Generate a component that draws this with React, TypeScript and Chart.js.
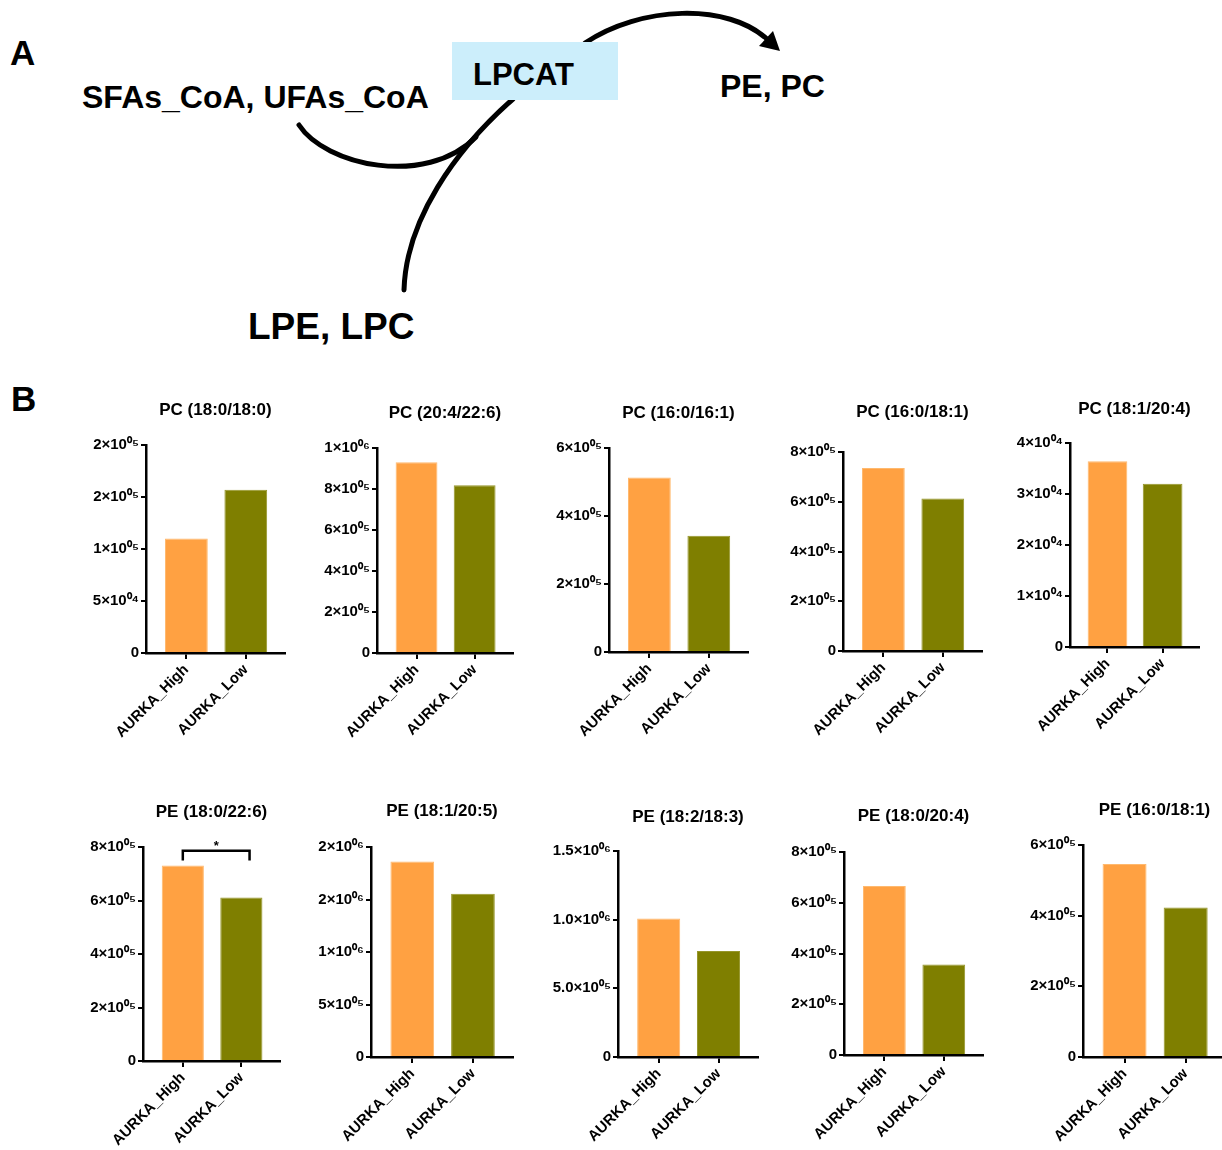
import React, { useEffect, useRef } from 'react';
import { Chart, registerables } from 'chart.js';

Chart.register(...registerables);

// ---------------- DATA ----------------
const categories = ['AURKA_High', 'AURKA_Low'];

const panelTitles = [
  'PC (18:0/18:0)',
  'PC (20:4/22:6)',
  'PC (16:0/16:1)',
  'PC (16:0/18:1)',
  'PC (18:1/20:4)',
  'PE (18:0/22:6)',
  'PE (18:1/20:5)',
  'PE (18:2/18:3)',
  'PE (18:0/20:4)',
  'PE (16:0/18:1)',
];

const highValues = [110000, 930000, 513000, 736000, 36400, 731000, 1863000, 1009000, 666000, 546000];
const lowValues = [157000, 818000, 342000, 613000, 32000, 611000, 1555000, 771000, 357000, 423000];

const yMaxValues = [200000, 1000000, 600000, 800000, 40000, 800000, 2000000, 1500000, 800000, 600000];

const yTickValues = [
  [0, 50000, 100000, 150000, 200000],
  [0, 200000, 400000, 600000, 800000, 1000000],
  [0, 200000, 400000, 600000],
  [0, 200000, 400000, 600000, 800000],
  [0, 10000, 20000, 30000, 40000],
  [0, 200000, 400000, 600000, 800000],
  [0, 500000, 1000000, 1500000, 2000000],
  [0, 500000, 1000000, 1500000],
  [0, 200000, 400000, 600000, 800000],
  [0, 200000, 400000, 600000],
];

const yTickLabels = [
  ['0', '5×10⁰⁴', '1×10⁰⁵', '2×10⁰⁵', '2×10⁰⁵'],
  ['0', '2×10⁰⁵', '4×10⁰⁵', '6×10⁰⁵', '8×10⁰⁵', '1×10⁰⁶'],
  ['0', '2×10⁰⁵', '4×10⁰⁵', '6×10⁰⁵'],
  ['0', '2×10⁰⁵', '4×10⁰⁵', '6×10⁰⁵', '8×10⁰⁵'],
  ['0', '1×10⁰⁴', '2×10⁰⁴', '3×10⁰⁴', '4×10⁰⁴'],
  ['0', '2×10⁰⁵', '4×10⁰⁵', '6×10⁰⁵', '8×10⁰⁵'],
  ['0', '5×10⁰⁵', '1×10⁰⁶', '2×10⁰⁶', '2×10⁰⁶'],
  ['0', '5.0×10⁰⁵', '1.0×10⁰⁶', '1.5×10⁰⁶'],
  ['0', '2×10⁰⁵', '4×10⁰⁵', '6×10⁰⁵', '8×10⁰⁵'],
  ['0', '2×10⁰⁵', '4×10⁰⁵', '6×10⁰⁵'],
];

// significance annotation (panel index, label, bracket level, tips, bracket x-extent)
const sigPanel = 5;
const sigLabel = '*';
const sigBarValue = 786000;
const sigTipValue = 750000;
const sigBracketX = [0, 1.14];

// ---------------- STYLE / LAYOUT ----------------
const FONT = "'Liberation Sans', Arial, Helvetica, sans-serif";
const barColors = ['#FFA142', '#7F7F00'];
const barBorders = ['#FFB96E', '#96962A'];
const YW = 80; // y-axis box width
const XH = 100; // x-axis box height
const TOP = 60; // space above plot
const PR = 6; // right padding
const X_MIN = -0.68;
const X_MAX = 1.66;

// plot-area boxes: left, top, bottom(zero line), right, title centre y
const panelBoxes = [
  { L: 146, T: 445, B: 653, R: 285, ty: 410 },
  { L: 377, T: 448, B: 653, R: 513, ty: 413 },
  { L: 609, T: 448, B: 652, R: 748, ty: 413 },
  { L: 843, T: 452, B: 651, R: 982, ty: 412 },
  { L: 1070, T: 443, B: 647, R: 1199, ty: 409 },
  { L: 143, T: 847, B: 1061, R: 280, ty: 812 },
  { L: 371, T: 847, B: 1057, R: 513, ty: 811 },
  { L: 618, T: 851, B: 1057, R: 758, ty: 817 },
  { L: 844, T: 852, B: 1055, R: 983, ty: 816 },
  { L: 1083, T: 845, B: 1057, R: 1226, ty: 810 },
];

function BarPanel({ index }: { index: number }) {
  const ref = useRef<HTMLCanvasElement | null>(null);
  const box = panelBoxes[index];
  const width = YW + (box.R - box.L) + PR;
  const height = TOP + (box.B - box.T) + XH;

  useEffect(() => {
    if (!ref.current) return;
    const title = panelTitles[index];
    const titleGap = box.T - box.ty;
    const decor = {
      id: 'decor',
      afterDraw(chart: any) {
        const { ctx, chartArea, scales } = chart;
        ctx.save();
        ctx.fillStyle = '#000';
        ctx.font = `bold 17px ${FONT}`;
        ctx.textAlign = 'center';
        ctx.textBaseline = 'middle';
        ctx.fillText(title, (chartArea.left + chartArea.right) / 2, chartArea.top - titleGap);
        if (index === sigPanel) {
          const x0 = scales.x.getPixelForValue(sigBracketX[0]);
          const x1 = scales.x.getPixelForValue(sigBracketX[1]);
          const yb = scales.y.getPixelForValue(sigBarValue);
          const yt = scales.y.getPixelForValue(sigTipValue);
          ctx.strokeStyle = '#000';
          ctx.lineWidth = 2.5;
          ctx.beginPath();
          ctx.moveTo(x0, yt);
          ctx.lineTo(x0, yb);
          ctx.lineTo(x1, yb);
          ctx.lineTo(x1, yt);
          ctx.stroke();
          ctx.font = `bold 13px ${FONT}`;
          ctx.textBaseline = 'alphabetic';
          ctx.fillText(sigLabel, (x0 + x1) / 2, yb - 1);
        }
        ctx.restore();
      },
    };

    const chart = new Chart(ref.current, {
      type: 'bar',
      data: {
        datasets: [
          {
            data: categories.map((c, k) => ({ x: k, y: k === 0 ? highValues[index] : lowValues[index] })),
            backgroundColor: barColors,
            borderColor: barBorders,
            borderWidth: 1,
            barPercentage: 0.9,
            categoryPercentage: 0.8,
          },
        ],
      },
      options: {
        animation: false,
        responsive: false,
        maintainAspectRatio: false,
        devicePixelRatio: 1,
        layout: { padding: { top: TOP, left: 0, right: PR, bottom: 0 } },
        plugins: { legend: { display: false }, tooltip: { enabled: false }, title: { display: false } },
        scales: {
          x: {
            type: 'linear',
            min: X_MIN,
            max: X_MAX,
            offset: false,
            afterBuildTicks: (axis: any) => {
              axis.ticks = categories.map((c, k) => ({ value: k }));
            },
            afterFit: (axis: any) => {
              axis.height = XH;
            },
            grid: { display: true, offset: false, drawOnChartArea: false, drawTicks: true, tickLength: 6, color: '#000', lineWidth: 2 },
            border: { display: true, color: '#000', width: 2.5 },
            ticks: {
              autoSkip: false,
              minRotation: 45,
              maxRotation: 45,
              padding: 2,
              color: '#000',
              font: { family: FONT, size: 15, weight: 'bold' },
              callback: (v: any, i: number) => categories[i],
            },
          },
          y: {
            type: 'linear',
            min: 0,
            max: yMaxValues[index],
            afterBuildTicks: (axis: any) => {
              axis.ticks = yTickValues[index].map((v) => ({ value: v }));
            },
            afterFit: (axis: any) => {
              axis.width = YW;
            },
            grid: { display: true, drawOnChartArea: false, drawTicks: true, tickLength: 5, color: '#000', lineWidth: 2 },
            border: { display: true, color: '#000', width: 2.5 },
            ticks: {
              autoSkip: false,
              padding: 2,
              color: '#000',
              font: { family: FONT, size: 15, weight: 'bold' },
              callback: (v: any, i: number) => yTickLabels[index][i],
            },
          },
        },
      },
      plugins: [decor],
    } as any);
    return () => chart.destroy();
  }, [index]);

  return (
    <canvas
      ref={ref}
      width={width}
      height={height}
      style={{
        position: 'absolute',
        left: box.L - YW,
        top: box.T - TOP,
        width,
        height,
      }}
    />
  );
}

function PathwayDiagram() {
  const arrowTip = { x: 780, y: 51 };
  return (
    <svg
      width={1222}
      height={420}
      style={{ position: 'absolute', left: 0, top: 0 }}
      fontFamily={FONT}
      fontWeight="bold"
    >
      <text x={10} y={65} fontSize={35}>A</text>
      <text x={11} y={411} fontSize={35}>B</text>
      <path d="M 299 125 C 325 165, 425 188, 476 137" stroke="#000" strokeWidth={5} fill="none" strokeLinecap="round" />
      <path d="M 404 290 C 406 220, 455 150, 513 99" stroke="#000" strokeWidth={5} fill="none" strokeLinecap="round" />
      <path d="M 585 43 C 640 6, 728 2, 768 40" stroke="#000" strokeWidth={5} fill="none" strokeLinecap="round" />
      <polygon
        points={`${arrowTip.x},${arrowTip.y} ${arrowTip.x - 21},${arrowTip.y - 5} ${arrowTip.x - 7},${arrowTip.y - 20}`}
        fill="#000"
      />
      <rect x={452} y={42} width={166} height={58} fill="#CCEEFB" />
      <text x={473} y={85} fontSize={31}>LPCAT</text>
      <text x={82} y={108} fontSize={32}>SFAs_CoA, UFAs_CoA</text>
      <text x={720} y={97} fontSize={32}>PE, PC</text>
      <text x={248} y={339} fontSize={37}>LPE, LPC</text>
    </svg>
  );
}

export default function App() {
  return (
    <div
      style={{
        position: 'absolute',
        left: 0,
        top: 0,
        width: 1222,
        height: 1150,
        overflow: 'hidden',
        background: '#fff',
      }}
    >
      <PathwayDiagram />
      {panelTitles.map((t, i) => (
        <BarPanel key={t} index={i} />
      ))}
    </div>
  );
}
